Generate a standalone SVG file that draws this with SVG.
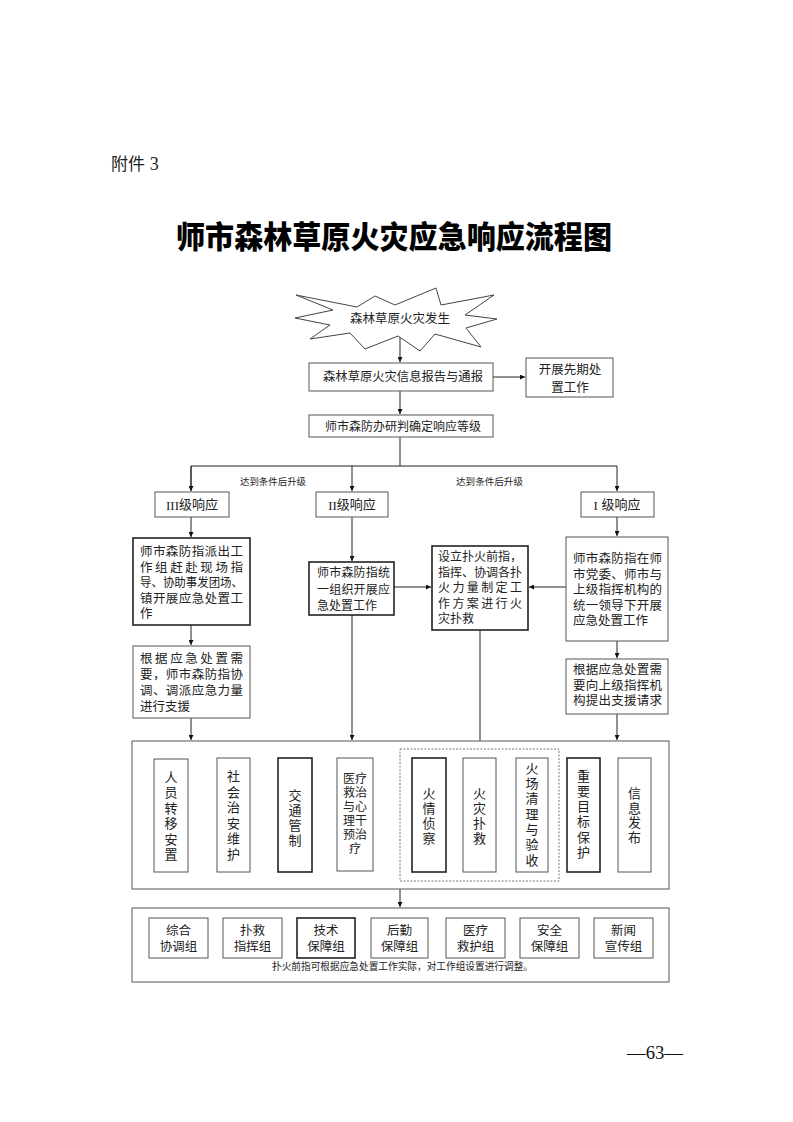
<svg xmlns="http://www.w3.org/2000/svg" width="793" height="1122" viewBox="0 0 793 1122">
<style>
.t{font-family:"Liberation Sans","Noto Sans CJK SC",sans-serif;fill:#222;font-size:12.5px;dominant-baseline:central}
.c{text-anchor:middle}
.v{writing-mode:vertical-rl;font-size:13px;font-family:"Noto Sans CJK SC",sans-serif}
.box{fill:#fff;stroke:#555;stroke-width:1}
.boxd{fill:#fff;stroke:#222;stroke-width:1.6}
.dash{fill:none;stroke:#555;stroke-width:0.8;stroke-dasharray:2 1.5}
.ln{stroke:#222;stroke-width:1;fill:none}
.sm{font-size:9.5px}
</style>
<defs>
<marker id="ah" viewBox="0 0 10 10" refX="10" refY="5" markerWidth="5" markerHeight="5" markerUnits="userSpaceOnUse" orient="auto">
<path d="M0,0 L10,5 L0,10 z" fill="#111"/>
</marker>
</defs>
<rect width="793" height="1122" fill="#fff"/>
<g id="header">
<text x="111" y="164" class="t" style="font-size:17px">附件 <tspan style="font-family:'Liberation Serif',serif;font-size:18px">3</tspan></text>
<text x="176" y="234" class="t" style="font-size:31px;font-weight:900;fill:#000;font-family:'Noto Sans CJK SC',sans-serif" textLength="436" lengthAdjust="spacingAndGlyphs">师市森林草原火灾应急响应流程图</text>
</g>
<g id="connectors">
<line class="ln" x1="400" y1="336" x2="400" y2="362" marker-end="url(#ah)"/>
<line class="ln" x1="493" y1="377" x2="525" y2="377" marker-end="url(#ah)"/>
<line class="ln" x1="400" y1="391" x2="400" y2="414" marker-end="url(#ah)"/>
<polyline class="ln" points="400,437 400,466"/>
<polyline class="ln" points="191,491 191,466 617,466 617,491" marker-end="url(#ah)"/>
<line class="ln" x1="191" y1="466" x2="191" y2="491" marker-end="url(#ah)"/>
<line class="ln" x1="352" y1="466" x2="352" y2="491" marker-end="url(#ah)"/>
<line class="ln" x1="191" y1="517" x2="191" y2="537" marker-end="url(#ah)"/>
<line class="ln" x1="352" y1="517" x2="352" y2="561" marker-end="url(#ah)"/>
<line class="ln" x1="617" y1="517" x2="617" y2="536" marker-end="url(#ah)"/>
<line class="ln" x1="191" y1="625" x2="191" y2="645" marker-end="url(#ah)"/>
<line class="ln" x1="191" y1="718" x2="191" y2="740" marker-end="url(#ah)"/>
<line class="ln" x1="394" y1="587" x2="431" y2="587" marker-end="url(#ah)"/>
<line class="ln" x1="566" y1="587" x2="529" y2="587" marker-end="url(#ah)"/>
<line class="ln" x1="352" y1="615" x2="352" y2="740" marker-end="url(#ah)"/>
<line class="ln" x1="480" y1="630" x2="480" y2="748" marker-end="url(#ah)"/>
<line class="ln" x1="617" y1="641" x2="617" y2="658" marker-end="url(#ah)"/>
<line class="ln" x1="617" y1="714" x2="617" y2="740" marker-end="url(#ah)"/>
<line class="ln" x1="400" y1="889" x2="400" y2="907" marker-end="url(#ah)"/>
</g>
<g id="n-start">
<polygon fill="#fff" stroke="#444" stroke-width="1" points="296,295 357,307 375,296 395,305 436,288 441,305 494,295 465,315 497,319 466,328 481,347 435,334 420,351 398,336 365,349 350,333 310,339 330,325 295,318 333,310"/>
<text x="400" y="319" class="t c">森林草原火灾发生</text>
</g>
<g id="n-report">
<rect class="box" x="309" y="363" width="184" height="28"/>
<text x="403" y="377" class="t c" style="font-size:12.3px">森林草原火灾信息报告与通报</text>
</g>
<g id="n-early">
<rect class="box" x="526" y="358" width="87" height="39"/>
<text x="570" y="370" class="t c">开展先期处</text>
<text x="570" y="388" class="t c">置工作</text>
</g>
<g id="n-judge">
<rect class="box" x="309" y="415" width="184" height="22"/>
<text x="403" y="426.5" class="t c" style="font-size:12px">师市森防办研判确定响应等级</text>
</g>
<g id="n-label1"><text x="240" y="481" class="t sm" textLength="66" lengthAdjust="spacingAndGlyphs">达到条件后升级</text></g>
<g id="n-label2"><text x="456" y="481" class="t sm" textLength="67" lengthAdjust="spacingAndGlyphs">达到条件后升级</text></g>
<g id="n-l3">
<rect class="box" x="155" y="492" width="74" height="25"/>
<text x="192" y="504.5" class="t c" style="font-size:13px"><tspan style="font-family:'Liberation Serif',serif">III</tspan>级响应</text>
</g>
<g id="n-l2">
<rect class="box" x="316" y="492" width="72" height="25"/>
<text x="352" y="504.5" class="t c" style="font-size:13px"><tspan style="font-family:'Liberation Serif',serif">II</tspan>级响应</text>
</g>
<g id="n-l1">
<rect class="box" x="581" y="492" width="73" height="25"/>
<text x="617" y="504.5" class="t c" style="font-size:13px"><tspan style="font-family:'Liberation Serif',serif">I</tspan> 级响应</text>
</g>
<g id="n-left1">
<rect class="boxd" x="133" y="538" width="117" height="87"/>
<text x="140" y="552" class="t" textLength="103" lengthAdjust="spacing">师市森防指派出工</text>
<text x="140" y="567.5" class="t" textLength="103" lengthAdjust="spacing">作组赶赴现场指</text>
<text x="140" y="583" class="t" textLength="103" lengthAdjust="spacingAndGlyphs">导、协助事发团场、</text>
<text x="140" y="598.5" class="t" textLength="103" lengthAdjust="spacing">镇开展应急处置工</text>
<text x="140" y="614" class="t">作</text>
</g>
<g id="n-left2">
<rect class="box" x="133" y="646" width="117" height="72"/>
<text x="140" y="659" class="t" textLength="103" lengthAdjust="spacing">根据应急处置需</text>
<text x="140" y="675" class="t" textLength="103" lengthAdjust="spacing">要，师市森防指协</text>
<text x="140" y="691" class="t" textLength="103" lengthAdjust="spacing">调、调派应急力量</text>
<text x="140" y="707" class="t">进行支援</text>
</g>
<g id="n-mid">
<rect class="boxd" x="309" y="562" width="85" height="53"/>
<text x="317" y="573" class="t" style="font-size:12px" textLength="73" lengthAdjust="spacing">师市森防指统</text>
<text x="317" y="589.5" class="t" style="font-size:12px" textLength="73" lengthAdjust="spacing">一组织开展应</text>
<text x="317" y="606" class="t" style="font-size:12px">急处置工作</text>
</g>
<g id="n-front">
<rect class="boxd" x="432" y="546" width="96" height="84"/>
<text x="438" y="557" class="t" style="font-size:12px" textLength="84" lengthAdjust="spacing">设立扑火前指，</text>
<text x="438" y="573" class="t" style="font-size:12px" textLength="84" lengthAdjust="spacing">指挥、协调各扑</text>
<text x="438" y="588" class="t" style="font-size:12px" textLength="84" lengthAdjust="spacing">火力量制定工</text>
<text x="438" y="604" class="t" style="font-size:12px" textLength="84" lengthAdjust="spacing">作方案进行火</text>
<text x="438" y="619" class="t" style="font-size:12px">灾扑救</text>
</g>
<g id="n-right1">
<rect class="box" x="566" y="537" width="102" height="104"/>
<text x="573" y="559" class="t" textLength="89" lengthAdjust="spacing">师市森防指在师</text>
<text x="573" y="574.5" class="t" textLength="89" lengthAdjust="spacing">市党委、师市与</text>
<text x="573" y="590" class="t" textLength="89" lengthAdjust="spacing">上级指挥机构的</text>
<text x="573" y="605.5" class="t" textLength="89" lengthAdjust="spacing">统一领导下开展</text>
<text x="573" y="621" class="t">应急处置工作</text>
</g>
<g id="n-right2">
<rect class="box" x="566" y="659" width="102" height="55"/>
<text x="573" y="670" class="t" textLength="89" lengthAdjust="spacing">根据应急处置需</text>
<text x="573" y="686" class="t" textLength="89" lengthAdjust="spacing">要向上级指挥机</text>
<text x="573" y="701" class="t" textLength="89" lengthAdjust="spacing">构提出支援请求</text>
</g>
<g id="n-tasks">
<rect class="box" x="132" y="741" width="537" height="148"/>
<rect class="dash" x="400" y="749" width="159" height="132"/>
</g>
<g id="n-t1">
<rect class="box" x="154" y="759" width="34" height="113"/>
<text x="171" y="817" class="t c v" style="letter-spacing:2.5px">人员转移安置</text>
</g>
<g id="n-t2">
<rect class="box" x="217" y="758" width="33" height="114"/>
<text x="233.5" y="816.5" class="t c v" style="letter-spacing:2.5px">社会治安维护</text>
</g>
<g id="n-t3">
<rect class="boxd" x="278" y="758" width="34" height="114"/>
<text x="295" y="818.5" class="t c v" style="letter-spacing:2px">交通管制</text>
</g>
<g id="n-t4">
<rect class="box" x="337" y="758" width="36" height="113"/>
<text class="t c" style="font-size:12px"><tspan x="355" y="779">医疗</tspan><tspan x="355" y="793">救治</tspan><tspan x="355" y="807">与心</tspan><tspan x="355" y="821">理干</tspan><tspan x="355" y="835">预治</tspan><tspan x="355" y="849">疗</tspan></text>
</g>
<g id="n-t5">
<rect class="boxd" x="412" y="758" width="34" height="114"/>
<text x="429" y="816.5" class="t c v" style="letter-spacing:2px">火情侦察</text>
</g>
<g id="n-t6">
<rect class="box" x="463" y="758" width="33" height="114"/>
<text x="479.5" y="816.5" class="t c v" style="letter-spacing:2px">火灾扑救</text>
</g>
<g id="n-t7">
<rect class="box" x="516" y="758" width="32" height="114"/>
<text x="532" y="815" class="t c v" style="letter-spacing:2.3px">火场清理与验收</text>
</g>
<g id="n-t8">
<rect class="boxd" x="567" y="758" width="33" height="114"/>
<text x="583.5" y="815" class="t c v" style="letter-spacing:2.2px">重要目标保护</text>
</g>
<g id="n-t9">
<rect class="box" x="618" y="758" width="33" height="114"/>
<text x="634.5" y="816" class="t c v" style="letter-spacing:1.8px">信息发布</text>
</g>
<g id="n-groups">
<rect class="box" x="132" y="908" width="537" height="74"/>
<text x="272" y="966" class="t sm" style="font-size:9.7px" textLength="261" lengthAdjust="spacingAndGlyphs">扑火前指可根据应急处置工作实际，对工作组设置进行调整。</text>
</g>
<g id="n-g1"><rect class="box" x="149" y="918" width="59" height="40"/><text x="178.5" y="931" class="t c">综合</text><text x="178.5" y="947" class="t c">协调组</text></g>
<g id="n-g2"><rect class="box" x="223" y="918" width="59" height="40"/><text x="252.5" y="931" class="t c">扑救</text><text x="252.5" y="947" class="t c">指挥组</text></g>
<g id="n-g3"><rect class="boxd" x="297" y="918" width="58" height="40"/><text x="326" y="931" class="t c">技术</text><text x="326" y="947" class="t c">保障组</text></g>
<g id="n-g4"><rect class="box" x="371" y="918" width="57" height="40"/><text x="399.5" y="931" class="t c">后勤</text><text x="399.5" y="947" class="t c">保障组</text></g>
<g id="n-g5"><rect class="box" x="446" y="918" width="59" height="40"/><text x="475.5" y="931" class="t c">医疗</text><text x="475.5" y="947" class="t c">救护组</text></g>
<g id="n-g6"><rect class="box" x="520" y="918" width="59" height="40"/><text x="549.5" y="931" class="t c">安全</text><text x="549.5" y="947" class="t c">保障组</text></g>
<g id="n-g7"><rect class="box" x="594" y="918" width="59" height="40"/><text x="623.5" y="931" class="t c">新闻</text><text x="623.5" y="947" class="t c">宣传组</text></g>
<g id="footer">
<text x="627" y="1059" style="font-family:'Liberation Serif',serif;font-size:18px;fill:#111" textLength="56" lengthAdjust="spacingAndGlyphs">—63—</text>
</g>
</svg>
